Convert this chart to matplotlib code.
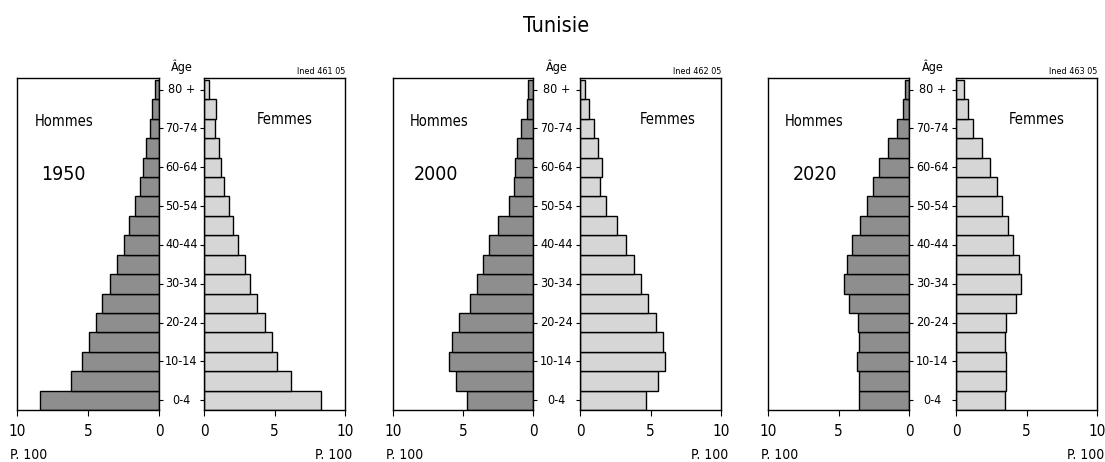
import numpy as np
import matplotlib
matplotlib.use("Agg")
import matplotlib.pyplot as plt
import matplotlib.transforms as mtransforms

# condensed face, close to the narrow font of the original
plt.rcParams['font.family'] = ['DejaVu Sans']
plt.rcParams['font.stretch'] = 'condensed'

# age groups, bottom to top
ages = ['0-4', '5-9', '10-14', '15-19', '20-24', '25-29', '30-34', '35-39', '40-44',
        '45-49', '50-54', '55-59', '60-64', '65-69', '70-74', '75-79', '80 +']
age_labels_shown = ['0-4', '10-14', '20-24', '30-34', '40-44', '50-54', '60-64', '70-74', '80 +']

years = ['1950', '2000', '2020']
codes = ['Ined 461 05', 'Ined 462 05', 'Ined 463 05']

# percentage of total population (p. 100)
men_1950 = [8.36, 6.2, 5.43, 4.96, 4.45, 4.0, 3.42, 2.95, 2.46, 2.08, 1.69, 1.31, 1.10, 0.94, 0.66, 0.52, 0.28]
women_1950 = [8.27, 6.15, 5.2, 4.8, 4.35, 3.73, 3.26, 2.88, 2.39, 2.03, 1.75, 1.44, 1.23, 1.06, 0.78, 0.87, 0.38]
men_2000 = [4.72, 5.5, 6.0, 5.78, 5.28, 4.53, 4.03, 3.55, 3.15, 2.49, 1.68, 1.35, 1.26, 1.14, 0.83, 0.45, 0.36]
women_2000 = [4.7, 5.5, 6.05, 5.89, 5.39, 4.82, 4.33, 3.85, 3.29, 2.62, 1.84, 1.44, 1.56, 1.28, 0.97, 0.61, 0.38]
men_2020 = [3.55, 3.55, 3.66, 3.55, 3.64, 4.23, 4.61, 4.42, 4.02, 3.45, 2.98, 2.58, 2.1, 1.51, 0.83, 0.45, 0.26]
women_2020 = [3.45, 3.55, 3.55, 3.45, 3.55, 4.23, 4.61, 4.44, 4.04, 3.66, 3.26, 2.88, 2.41, 1.82, 1.18, 0.83, 0.59]

men = [men_1950, men_2000, men_2020]
women = [women_1950, women_2000, women_2020]

W, H = 1105, 462
# pixel boxes (left, width) of the men / women axes for each pyramid
men_boxes = [(17, 142), (393, 140), (768, 141)]
women_boxes = [(204, 141), (580, 141), (956, 141)]
ax_top, ax_bot = 78, 410

MEN_COL = '#8e8e8e'
WOMEN_COL = '#d6d6d6'

fig = plt.figure(figsize=(W / 100, H / 100), dpi=100)
fig.text(556 / W, 1 - 26 / H, 'Tunisie', ha='center', va='center', fontsize=15.5)

y = np.arange(len(ages))
ytick_pos = [ages.index(a) for a in age_labels_shown]

hommes_x = [0.33, 0.33, 0.33]
year_x = [0.33, 0.31, 0.33]
femmes_x = [0.57, 0.62, 0.57]


def box(x0, w):
    return [x0 / W, 1 - ax_bot / H, w / W, (ax_bot - ax_top) / H]


for i in range(3):
    axm = fig.add_axes(box(*men_boxes[i]))
    axw = fig.add_axes(box(*women_boxes[i]))

    axm.barh(y, men[i], height=1.0, color=MEN_COL, edgecolor='black', linewidth=1.0)
    axw.barh(y, women[i], height=1.0, color=WOMEN_COL, edgecolor='black', linewidth=1.0)

    for ax in (axm, axw):
        ax.set_ylim(-0.5, 16.6)
        ax.set_xlim(0, 10)
        ax.set_xticks([0, 5, 10])
        ax.set_xticklabels(['0', '5', '10'])
        ax.tick_params(axis='x', direction='out', length=4, width=0.8, pad=6, labelsize=11)
        ax.set_yticks(ytick_pos)
        ax.set_yticklabels([])
        for s in ax.spines.values():
            s.set_linewidth(1.0)
    axm.invert_xaxis()
    axm.yaxis.tick_right()
    axm.tick_params(axis='y', direction='out', length=3, width=0.8)
    axw.yaxis.tick_left()
    axw.tick_params(axis='y', direction='out', length=3, width=0.8)

    # age labels in the gap
    mx, mw = men_boxes[i]
    wx, ww = women_boxes[i]
    gap_c = (mx + mw + wx) / 2
    xfrac = (gap_c - mx) / mw
    trans = mtransforms.blended_transform_factory(axm.transAxes, axm.transData)
    for lab, p in zip(age_labels_shown, ytick_pos):
        axm.text(xfrac, p, lab, transform=trans, ha='center', va='center', fontsize=9)
    axm.text(xfrac, 1.035, 'Âge', transform=axm.transAxes, ha='center', va='center', fontsize=9)

    axw.text(1.0, 1.005, codes[i], transform=axw.transAxes, ha='right', va='bottom', fontsize=6.5)

    axm.text(hommes_x[i], 0.87, 'Hommes', transform=axm.transAxes, ha='center', va='center', fontsize=10.5)
    axm.text(year_x[i], 0.71, years[i], transform=axm.transAxes, ha='center', va='center', fontsize=14)
    axw.text(femmes_x[i], 0.875, 'Femmes', transform=axw.transAxes, ha='center', va='center', fontsize=10.5)

    fig.text((mx - 7) / W, 1 - 455 / H, 'P. 100', ha='left', va='center', fontsize=10)
    fig.text((wx + ww + 7) / W, 1 - 455 / H, 'P. 100', ha='right', va='center', fontsize=10)

fig.savefig('out.png', dpi=100)
